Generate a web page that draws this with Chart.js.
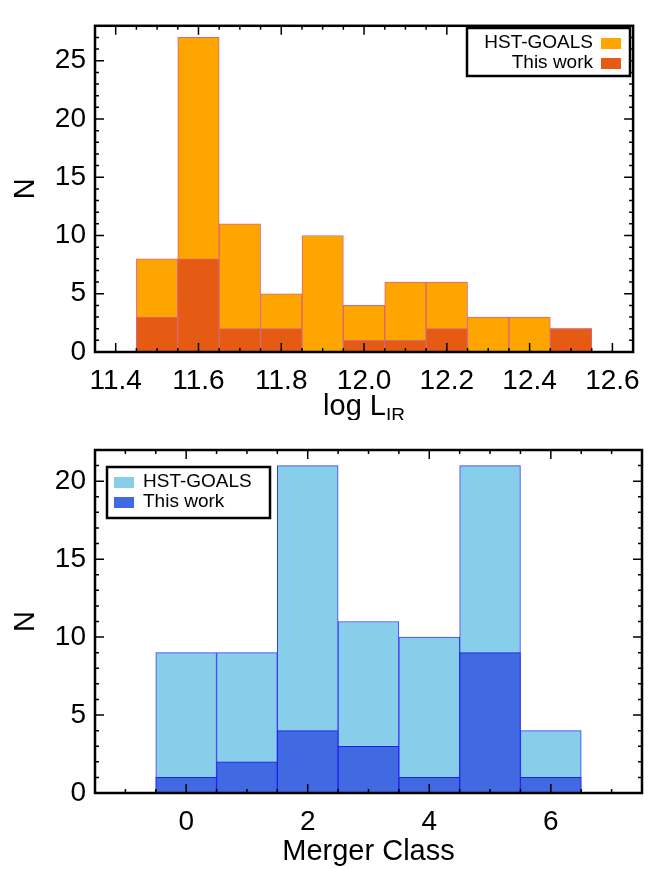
<!DOCTYPE html>
<html>
<head>
<meta charset="utf-8">
<script src="https://cdn.jsdelivr.net/npm/chart.js@4.4.0/dist/chart.umd.min.js"></script>
<style>
body { margin: 0; background: #fff; }
canvas { display: block; }
</style>
</head>
<body>
<canvas id="c1" width="652" height="420"></canvas>
<canvas id="c2" width="652" height="449"></canvas>
<script>
// top panel: log L_IR histogram
var lirBins = [11.5, 11.6, 11.7, 11.8, 11.9, 12.0, 12.1, 12.2, 12.3, 12.4, 12.5];
var lirGoals = [8, 27, 11, 5, 10, 4, 6, 6, 3, 3, 2];
var lirThis = [3, 8, 2, 2, 0, 1, 1, 2, 0, 0, 2];
var lirTicks = [11.4, 11.6, 11.8, 12.0, 12.2, 12.4, 12.6];
var nTicksTop = [0, 5, 10, 15, 20, 25];

// bottom panel: merger class histogram
var mergerClass = [0, 1, 2, 3, 4, 5, 6];
var mergerGoals = [9, 9, 21, 11, 10, 21, 4];
var mergerThis = [1, 2, 4, 3, 1, 9, 1];
var mergerTicks = [0, 2, 4, 6];
var nTicksBot = [0, 5, 10, 15, 20];

var FONT = '"Liberation Sans", Arial, Helvetica, sans-serif';

function pts(xs, ys) {
	var out = [];
	for (var i = 0; i < xs.length; i++) out.push({x: xs[i], y: ys[i]});
	return out;
}

// frame + inward ticks on all four sides (IDL style)
var framePlugin = {
	id: 'frame',
	afterDraw: function(chart, args, opts) {
		var ctx = chart.ctx, a = chart.chartArea;
		var xs = chart.scales.x, ys = chart.scales.y;
		ctx.save();
		ctx.strokeStyle = '#000';
		ctx.lineWidth = 1.5;
		var v, p, len, major;
		for (v = Math.ceil(xs.min / opts.xMinor - 1e-6) * opts.xMinor; v <= xs.max + 1e-9; v += opts.xMinor) {
			major = opts.xMajor.some(function(m) { return Math.abs(m - v) < 1e-6; });
			len = major ? 9 : 4;
			p = xs.getPixelForValue(v);
			ctx.beginPath();
			ctx.moveTo(p, a.bottom); ctx.lineTo(p, a.bottom - len);
			ctx.moveTo(p, a.top); ctx.lineTo(p, a.top + len);
			ctx.stroke();
		}
		for (v = Math.ceil(ys.min / opts.yMinor - 1e-6) * opts.yMinor; v <= ys.max + 1e-9; v += opts.yMinor) {
			major = opts.yMajor.indexOf(Math.round(v)) >= 0;
			len = major ? 9 : 4;
			p = ys.getPixelForValue(v);
			ctx.beginPath();
			ctx.moveTo(a.left, p); ctx.lineTo(a.left + len, p);
			ctx.moveTo(a.right, p); ctx.lineTo(a.right - len, p);
			ctx.stroke();
		}
		ctx.lineWidth = 2.5;
		ctx.strokeRect(a.left, a.top, a.right - a.left, a.bottom - a.top);

		// axis titles
		ctx.fillStyle = '#000';
		ctx.textAlign = 'center';
		ctx.textBaseline = 'middle';
		ctx.font = '29px ' + FONT;
		ctx.save();
		ctx.translate(26, (a.top + a.bottom) / 2);
		ctx.rotate(-Math.PI / 2);
		ctx.fillText('N', 0, 0);
		ctx.restore();
		var cx = (a.left + a.right) / 2;
		if (opts.sub) {
			ctx.font = '29px ' + FONT;
			var w1 = ctx.measureText(opts.xTitle).width;
			ctx.font = '19px ' + FONT;
			var w2 = ctx.measureText(opts.sub).width;
			var x0 = cx - (w1 + w2) / 2;
			ctx.textAlign = 'left';
			ctx.font = '29px ' + FONT;
			ctx.fillText(opts.xTitle, x0, opts.titleY);
			ctx.font = '19px ' + FONT;
			ctx.fillText(opts.sub, x0 + w1, opts.titleY + 9);
		} else {
			ctx.fillText(opts.xTitle, cx, opts.titleY);
		}
		ctx.restore();
	}
};

// boxed legend inside the plot
var boxLegendPlugin = {
	id: 'boxLegend',
	afterDraw: function(chart, args, o) {
		var ctx = chart.ctx;
		ctx.save();
		ctx.fillStyle = '#fff';
		ctx.fillRect(o.x, o.y, o.w, o.h);
		ctx.strokeStyle = '#000';
		ctx.lineWidth = 2.5;
		ctx.strokeRect(o.x, o.y, o.w, o.h);
		ctx.font = '19px ' + FONT;
		ctx.textBaseline = 'middle';
		chart.data.datasets.forEach(function(ds, i) {
			var yc = o.y + 15 + i * 20;
			ctx.fillStyle = ds.backgroundColor;
			if (o.side === 'right') {
				ctx.fillRect(o.x + o.w - 29, yc - 5, 20, 11);
				ctx.fillStyle = '#000';
				ctx.textAlign = 'right';
				ctx.fillText(ds.label, o.x + o.w - 37, yc);
			} else {
				ctx.fillRect(o.x + 7, yc - 5, 20, 11);
				ctx.fillStyle = '#000';
				ctx.textAlign = 'left';
				ctx.fillText(ds.label, o.x + 36, yc);
			}
		});
		ctx.restore();
	}
};

function makeChart(id, cfg) {
	return new Chart(document.getElementById(id), {
		type: 'bar',
		data: {
			datasets: [
				{
					label: 'HST-GOALS',
					data: pts(cfg.xs, cfg.goals),
					backgroundColor: cfg.c1,
					borderColor: cfg.edge1,
					borderWidth: 1,
					borderSkipped: false,
					order: 2
				},
				{
					label: 'This work',
					data: pts(cfg.xs, cfg.mine),
					backgroundColor: cfg.c2,
					borderColor: cfg.edge2,
					borderWidth: 1,
					borderSkipped: false,
					order: 1
				}
			]
		},
		options: {
			responsive: false,
			animation: false,
			devicePixelRatio: 1,
			layout: { padding: cfg.pad },
			datasets: { bar: { grouped: false, barPercentage: 1, categoryPercentage: 1 } },
			plugins: {
				legend: { display: false },
				tooltip: { enabled: false },
				frame: cfg.frame,
				boxLegend: cfg.legend
			},
			scales: {
				x: {
					type: 'linear',
					offset: false,
					min: cfg.xmin,
					max: cfg.xmax,
					grid: { display: false, drawTicks: false },
					border: { display: false },
					afterBuildTicks: function(s) { s.ticks = cfg.xt.map(function(v) { return {value: v}; }); },
					afterFit: function(s) { s.height = cfg.xh; },
					ticks: {
						autoSkip: false,
						maxRotation: 0,
						padding: 12,
						color: '#000',
						font: { family: FONT, size: 28 },
						callback: cfg.fmt
					}
				},
				y: {
					min: 0,
					max: cfg.ymax,
					grid: { display: false, drawTicks: false },
					border: { display: false },
					afterBuildTicks: function(s) { s.ticks = cfg.yt.map(function(v) { return {value: v}; }); },
					afterFit: function(s) { s.width = 95; },
					ticks: {
						padding: 9,
						color: '#000',
						font: { family: FONT, size: 28 }
					}
				}
			}
		},
		plugins: [framePlugin, boxLegendPlugin]
	});
}

makeChart('c1', {
	xs: lirBins, goals: lirGoals, mine: lirThis,
	c1: '#FFA500', c2: '#E55B13', edge1: '#D9667A', edge2: '#D9667A',
	xmin: 11.35, xmax: 12.65, ymax: 28, xt: lirTicks, yt: nTicksTop, xh: 68,
	pad: { left: 0, right: 9, top: 10, bottom: 0 },
	fmt: function(v) { return Number(v).toFixed(1); },
	frame: { xMinor: 0.05, yMinor: 1, xMajor: lirTicks, yMajor: nTicksTop, xTitle: 'log L', sub: 'IR', titleY: 407 },
	legend: { x: 467, y: 28, w: 163, h: 48, side: 'right' }
});

makeChart('c2', {
	xs: mergerClass, goals: mergerGoals, mine: mergerThis,
	c1: '#87CEEB', c2: '#4169E1', edge1: '#3B3BFF', edge2: '#1F1FF0',
	xmin: -1.5, xmax: 7.5, ymax: 22, xt: mergerTicks, yt: nTicksBot, xh: 76,
	pad: { left: 0, right: 10, top: 30, bottom: 0 },
	fmt: function(v) { return String(v); },
	frame: { xMinor: 0.5, yMinor: 1, xMajor: mergerTicks, yMajor: nTicksBot, xTitle: 'Merger Class', sub: null, titleY: 432 },
	legend: { x: 107, y: 47, w: 163, h: 51, side: 'left' }
});
</script>
</body>
</html>
